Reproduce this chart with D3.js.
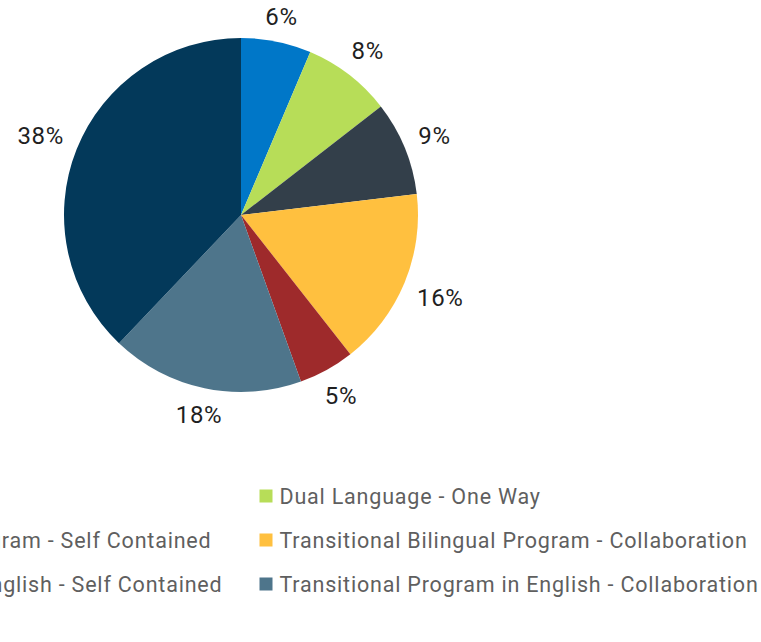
<!DOCTYPE html>
<html>
<head>
<meta charset="utf-8">
<script src="https://cdn.jsdelivr.net/npm/d3@7"></script>
<style>
  html, body { margin: 0; padding: 0; background: #ffffff; }
  svg { display: block; font-family: Roboto, "Noto Sans", sans-serif; }
</style>
</head>
<body>
<svg id="chart" width="761" height="642"></svg>
<script>
// Program enrolment shares (percent of students)
const programs = [
  "Dual Language - Two Way",
  "Dual Language - One Way",
  "Transitional Bilingual Program - Self Contained",
  "Transitional Bilingual Program - Collaboration",
  "Transitional Program in English - Self Contained",
  "Transitional Program in English - Collaboration",
  "Other Program Models"
];
const shares = [6.4, 8.1, 8.6, 16.3, 5.1, 17.6, 37.9];
const colors = ["#0077c8", "#b7dd58", "#333f4a", "#ffc03f", "#9e2a2b", "#4e758b", "#03395a"];

const data = programs.map((p, i) => ({ program: p, share: shares[i], color: colors[i] }));

const svg = d3.select("#chart");
const cx = 241, cy = 215, radius = 177, labelGap = 191;

const pie = d3.pie().sort(null).value(d => d.share);
const arc = d3.arc().innerRadius(0).outerRadius(radius);
const fmt = v => d3.format(".0f")(v) + "%";

const g = svg.append("g").attr("transform", `translate(${cx},${cy})`);
const arcs = pie(data);

g.selectAll("path.slice")
  .data(arcs)
  .join("path")
  .attr("class", "slice")
  .attr("d", arc)
  .attr("fill", d => d.data.color);

// Percentage labels: the box edge nearest the pie sits at a fixed distance
const labelSize = 24, capH = 0.711 * labelSize;
const labels = g.selectAll("text.pct")
  .data(arcs)
  .join("text")
  .attr("class", "pct")
  .attr("text-anchor", "middle")
  .attr("font-size", labelSize)
  .attr("letter-spacing", 0.6)
  .attr("fill", "#1f1f1f")
  .text(d => fmt(d.data.share));

labels.each(function(d) {
  const w = this.getComputedTextLength();
  const a = (d.startAngle + d.endAngle) / 2;
  const ux = Math.sin(a), uy = -Math.cos(a);
  const dist = labelGap + Math.abs(ux) * w / 2 + Math.abs(uy) * capH / 2;
  d3.select(this)
    .attr("x", ux * dist)
    .attr("y", uy * dist + capH / 2);
});

// Two-column legend, centred under the pie
const legend = svg.append("g");
const fontSize = 21.5, spacing = 0.8, swatch = 13, swatchGap = 7, colGap = 37, rowH = 44, firstRowY = 496;

const probe = legend.append("text").attr("font-size", fontSize).attr("letter-spacing", spacing);
let maxW = 0;
programs.forEach(p => { probe.text(p); maxW = Math.max(maxW, probe.node().getComputedTextLength()); });
probe.remove();

const colW = swatch + swatchGap + maxW + colGap;
const totalW = 2 * colW - colGap;
const startX = cx - totalW / 2;

const items = legend.selectAll("g.item")
  .data(data)
  .join("g")
  .attr("class", "item")
  .attr("transform", (d, i) => `translate(${startX + (i % 2) * colW},${firstRowY + Math.floor(i / 2) * rowH})`);

items.append("rect")
  .attr("x", 0)
  .attr("y", -swatch / 2)
  .attr("width", swatch)
  .attr("height", swatch)
  .attr("fill", d => d.color);

items.append("text")
  .attr("x", swatch + swatchGap)
  .attr("y", 0.36 * fontSize)
  .attr("font-size", fontSize)
  .attr("letter-spacing", spacing)
  .attr("fill", "#5f5f5f")
  .text(d => d.program);
</script>
</body>
</html>
